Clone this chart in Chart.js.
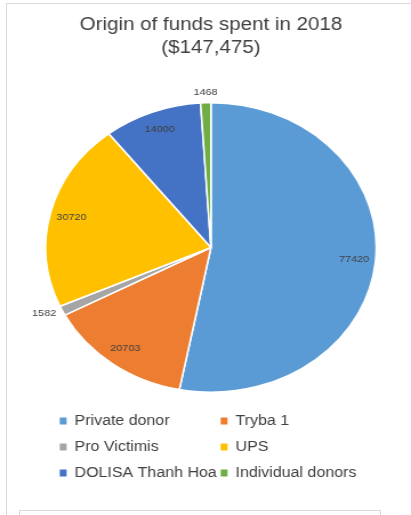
<!DOCTYPE html>
<html>
<head>
<meta charset="utf-8">
<script src="https://cdn.jsdelivr.net/npm/chart.js@4.4.1/dist/chart.umd.min.js"></script>
<style>
    html, body { margin: 0; padding: 0; background: #fff; }
    #wrap { position: relative; width: 411px; height: 515px; overflow: hidden; }
    #frame { position: absolute; left: 6px; top: 3px; width: 420px; height: 520px;
             border-left: 1px solid #d9d9d9; border-top: 1px solid #d9d9d9; }
    #box { position: absolute; left: 19px; top: 510px; width: 360px; height: 20px;
           border: 1px solid #d9d9d9; }
    #chart { position: absolute; left: 0; top: 0; }
</style>
</head>
<body>
<div id="wrap">
    <div id="frame"></div>
    <div id="box"></div>
    <canvas id="chart" width="360" height="515" style="width:411px;height:515px"></canvas>
</div>
<script>
    const titleLines = ['Origin of funds spent in 2018', '($147,475)'];
    const labels = ['Private donor', 'Tryba 1', 'Pro Victimis', 'UPS', 'DOLISA Thanh Hoa', 'Individual donors'];
    const amounts = [77420, 20703, 1582, 30720, 14000, 1468];
    const colors = ['#5B9BD5', '#ED7D31', '#A5A5A5', '#FFC000', '#4472C4', '#70AD47'];

    // etiquettes des valeurs, dedans ou dehors selon la taille de la part
    const valueLabels = {
        id: 'valueLabels',
        afterDatasetsDraw(chart) {
            const ctx = chart.ctx;
            const meta = chart.getDatasetMeta(0);
            const total = amounts.reduce((a, b) => a + b, 0);
            ctx.save();
            ctx.font = '9.5px "Liberation Sans", Arial, sans-serif';
            ctx.fillStyle = '#404040';
            meta.data.forEach((arc, i) => {
                const p = arc.getProps(['x', 'y', 'startAngle', 'endAngle', 'outerRadius'], true);
                const mid = (p.startAngle + p.endAngle) / 2;
                const cos = Math.cos(mid), sin = Math.sin(mid);
                const txt = String(amounts[i]);
                if (amounts[i] / total < 0.02) {
                    const r = p.outerRadius + 6;
                    const x = p.x + cos * r, y = p.y + sin * r;
                    if (Math.abs(cos) > 0.3) {
                        ctx.textAlign = cos < 0 ? 'right' : 'left';
                        ctx.textBaseline = 'middle';
                    } else {
                        ctx.textAlign = 'center';
                        ctx.textBaseline = sin < 0 ? 'bottom' : 'top';
                    }
                    ctx.fillText(txt, x, y);
                } else {
                    const r = p.outerRadius * 0.87;
                    ctx.textAlign = 'center';
                    ctx.textBaseline = 'middle';
                    ctx.fillText(txt, p.x + cos * r, p.y + sin * r);
                }
            });
            ctx.restore();
        }
    };

    // légende en deux colonnes comme dans Excel
    const gridLegend = {
        id: 'gridLegend',
        afterDraw(chart) {
            const ctx = chart.ctx;
            const cx = (chart.chartArea.left + chart.chartArea.right) / 2;
            const colX = [cx - 129.5, cx + 11.5];
            const rowY = [421, 447, 473];
            ctx.save();
            ctx.font = '14px "Liberation Sans", Arial, sans-serif';
            ctx.textBaseline = 'middle';
            ctx.textAlign = 'left';
            labels.forEach((lab, i) => {
                const x = colX[i % 2];
                const y = rowY[Math.floor(i / 2)];
                ctx.fillStyle = colors[i];
                ctx.fillRect(x - 3, y - 3.5, 6, 7);
                ctx.fillStyle = '#404040';
                ctx.fillText(lab, x + 10, y);
            });
            ctx.restore();
        }
    };

    const chart = new Chart(document.getElementById('chart'), {
        type: 'pie',
        data: {
            labels: labels,
            datasets: [{
                data: amounts,
                backgroundColor: colors,
                borderColor: '#ffffff',
                borderWidth: 1.5
            }]
        },
        options: {
            responsive: false,
            animation: false,
            layout: {
                padding: { left: 20, right: 10.4, top: 0, bottom: 122 }
            },
            plugins: {
                legend: { display: false },
                tooltip: { enabled: false },
                title: {
                    display: true,
                    text: titleLines,
                    color: '#404040',
                    font: { family: '"Liberation Sans", Arial, sans-serif', size: 18, weight: 'normal', lineHeight: 1.28 },
                    padding: { top: 13.5, bottom: 42.4 }
                }
            }
        },
        plugins: [valueLabels, gridLegend]
    });
</script>
</body>
</html>
